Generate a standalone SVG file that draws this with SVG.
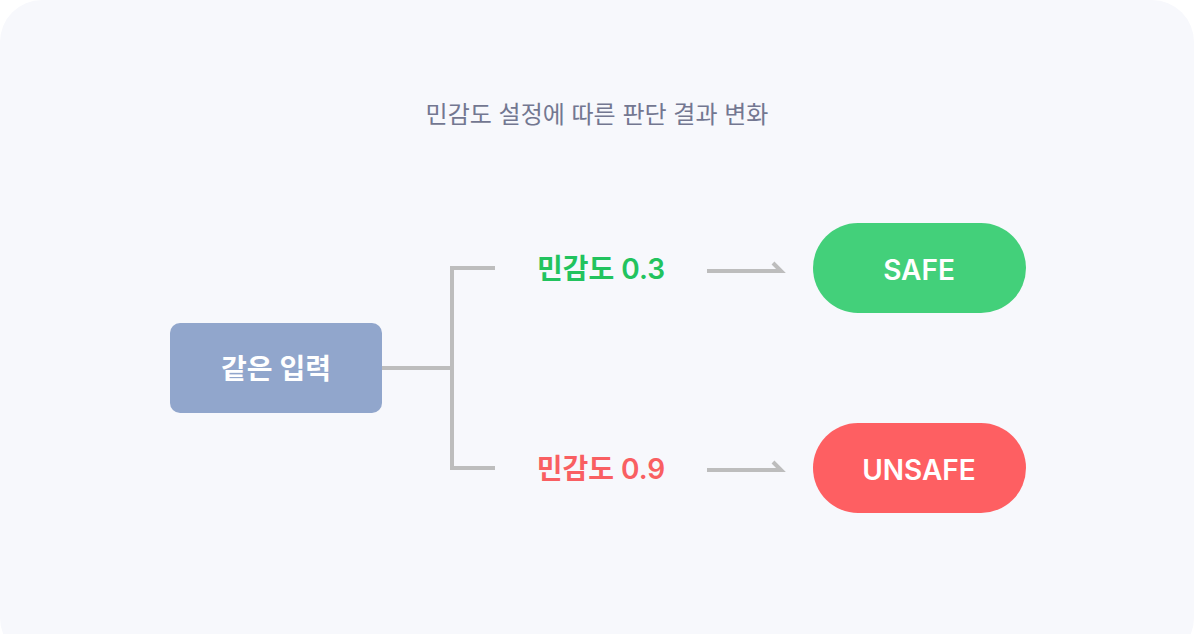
<svg xmlns="http://www.w3.org/2000/svg" width="1194" height="634" viewBox="0 0 1194 634">
<style>
.c{fill:none;stroke:#bdbdbd;stroke-width:4}
.t{font-family:Inter,"Noto Sans CJK KR",sans-serif;font-weight:600}
</style>
<rect width="1194" height="634" fill="#ffffff"/>
<rect x="0" y="0" width="1194" height="660" rx="42" fill="#f7f8fc"/>
<text x="597" y="123" text-anchor="middle" font-family="Inter,'Noto Sans CJK KR',sans-serif" font-size="24" fill="#737791">민감도 설정에 따른 판단 결과 변화</text>
<g id="connectors">
<path class="c" d="M382 368H452M495 268H452V468H495"/>
<path class="c" d="M707 271H781L773 263"/>
<path class="c" d="M707 470H781L773 462"/>
</g>
<g id="input"><rect x="170" y="323" width="212" height="90" rx="10" fill="#91a6cc"/><text class="t" x="276" y="379" text-anchor="middle" font-size="28" fill="#fff">같은 입력</text></g>
<g id="s03"><text class="t" x="601" y="279" text-anchor="middle" font-size="28" fill="#22c35e">민감도 0.3</text></g>
<g id="s09"><text class="t" x="601" y="479" text-anchor="middle" font-size="28" fill="#f95f62">민감도 0.9</text></g>
<g id="safe"><rect x="813" y="223" width="213" height="90" rx="45" fill="#43d07a"/><text class="t" x="919" y="280" text-anchor="middle" font-size="28" fill="#fff">SAFE</text></g>
<g id="unsafe"><rect x="813" y="423" width="213" height="90" rx="45" fill="#fe5f62"/><text class="t" x="919" y="480" text-anchor="middle" font-size="28" fill="#fff">UNSAFE</text></g>
</svg>
